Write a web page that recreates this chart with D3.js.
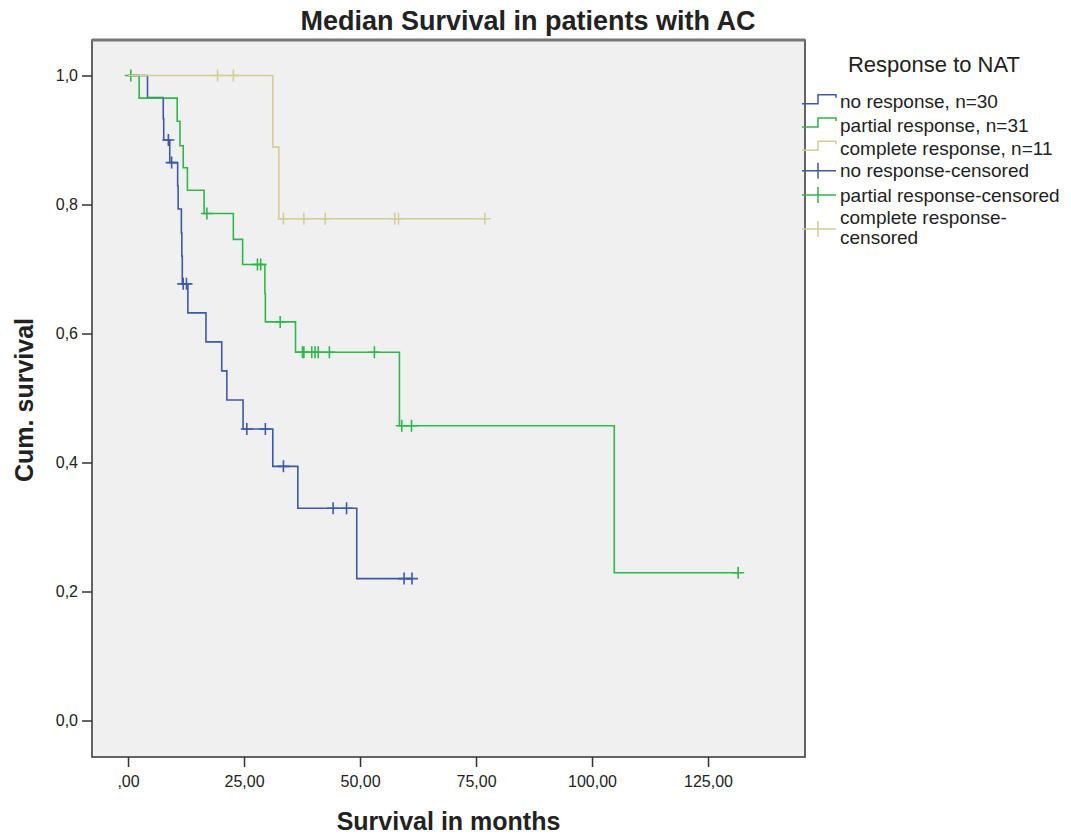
<!DOCTYPE html>
<html>
<head>
<meta charset="utf-8">
<script src="https://cdn.jsdelivr.net/npm/d3@7"></script>
<style>
  body { margin: 0; background: #fff; }
  text { font-family: "Liberation Sans", Arial, sans-serif; fill: #222; }
</style>
</head>
<body>
<div id="chart"></div>
<script>
// x ticks and labels
const xTicks = [0, 25, 50, 75, 100, 125];
const xTickLabels = [",00", "25,00", "50,00", "75,00", "100,00", "125,00"];
const yTicks = [0, 0.2, 0.4, 0.6, 0.8, 1.0];
const yTickLabels = ["0,0", "0,2", "0,4", "0,6", "0,8", "1,0"];

// groups
const groupNames = ["no response", "partial response", "complete response"];
const groupN = [30, 31, 11];
const groupColors = ["#3E58AC", "#2EB848", "#D3CE97"];

// no response: event times (months) and survival after the event
const noRespEventT = [4.2, 7.6, 7.7, 9.0, 10.7, 10.8, 11.5, 11.6, 11.7, 12.9, 16.8, 20.2, 21.3, 24.8, 31.2, 36.6, 49.3];
const noRespEventS = [0.966, 0.933, 0.900, 0.865, 0.829, 0.793, 0.756, 0.720, 0.677, 0.632, 0.587, 0.542, 0.497, 0.452, 0.394, 0.329, 0.220];
const noRespCensT = [8.7, 9.4, 11.9, 12.6, 25.6, 29.6, 33.5, 44.2, 47.1, 59.5, 61.2];
const noRespCensS = [0.900, 0.865, 0.677, 0.677, 0.452, 0.452, 0.394, 0.329, 0.329, 0.220, 0.220];

// partial response
const partRespEventT = [2.4, 10.6, 11.2, 11.9, 12.8, 16.4, 22.7, 24.7, 29.5, 29.6, 36.1, 58.5, 104.8];
const partRespEventS = [0.965, 0.929, 0.891, 0.857, 0.822, 0.786, 0.746, 0.707, 0.662, 0.618, 0.571, 0.457, 0.229];
const partRespCensT = [0.6, 17.0, 27.9, 28.6, 32.8, 37.6, 37.9, 39.6, 40.3, 41.0, 43.4, 53.1, 59.0, 61.1, 131.5];
const partRespCensS = [1.0, 0.786, 0.707, 0.707, 0.618, 0.571, 0.571, 0.571, 0.571, 0.571, 0.571, 0.571, 0.457, 0.457, 0.229];

// complete response
const compRespEventT = [31.2, 32.5];
const compRespEventS = [0.889, 0.778];
const compRespCensT = [19.3, 22.7, 33.5, 37.9, 42.5, 57.5, 58.3, 76.9];
const compRespCensS = [1.0, 1.0, 0.778, 0.778, 0.778, 0.778, 0.778, 0.778];

const groups = [
  { eventT: noRespEventT, eventS: noRespEventS, censT: noRespCensT, censS: noRespCensS },
  { eventT: partRespEventT, eventS: partRespEventS, censT: partRespCensT, censS: partRespCensS },
  { eventT: compRespEventT, eventS: compRespEventS, censT: compRespCensT, censS: compRespCensS }
];

const W = 1071, H = 837;
const box = { left: 92, top: 40, right: 805, bottom: 757 };

const svg = d3.select("#chart").append("svg")
  .attr("width", W)
  .attr("height", H);

// scales
const x = d3.scaleLinear().domain([-7.76, 145.9]).range([box.left, box.right]);
const y = d3.scaleLinear().domain([0, 1]).range([720.5, 75.5]);

// plot frame
svg.append("rect")
  .attr("x", box.left)
  .attr("y", box.top)
  .attr("width", box.right - box.left)
  .attr("height", box.bottom - box.top)
  .attr("fill", "#F0F0F0")
  .attr("stroke", "#333")
  .attr("stroke-width", 1.5);

svg.append("line")
  .attr("x1", box.left).attr("x2", box.right)
  .attr("y1", box.top).attr("y2", box.top)
  .attr("stroke", "#777")
  .attr("stroke-width", 3);

// axes
const xAxis = svg.append("g")
  .attr("transform", `translate(0,${box.bottom})`)
  .call(d3.axisBottom(x)
    .tickValues(xTicks)
    .tickFormat((d, i) => xTickLabels[i])
    .tickSize(10)
    .tickSizeOuter(0)
    .tickPadding(9));
xAxis.select(".domain").remove();

const yAxis = svg.append("g")
  .attr("transform", `translate(${box.left},0)`)
  .call(d3.axisLeft(y)
    .tickValues(yTicks)
    .tickFormat((d, i) => yTickLabels[i])
    .tickSize(10)
    .tickSizeOuter(0)
    .tickPadding(4));
yAxis.select(".domain").remove();

[xAxis, yAxis].forEach(a => {
  a.selectAll("line").attr("stroke", "#333").attr("stroke-width", 1.5);
  a.selectAll("text")
    .style("font-family", "'Liberation Sans', Arial, sans-serif")
    .style("font-size", "16px")
    .attr("fill", "#222");
});

// step curves
const stepLine = d3.line()
  .x(d => x(d[0]))
  .y(d => y(d[1]))
  .curve(d3.curveStepAfter);

const crossSize = 6;

groups.forEach((g, gi) => {
  const pts = [[0, 1]];
  g.eventT.forEach((t, i) => pts.push([t, g.eventS[i]]));
  const lastS = pts[pts.length - 1][1];
  const endT = d3.max([d3.max(g.censT), d3.max(g.eventT)]);
  pts.push([endT, lastS]);

  svg.append("path")
    .datum(pts)
    .attr("d", stepLine)
    .attr("fill", "none")
    .attr("stroke", groupColors[gi])
    .attr("stroke-width", 1.6);

  // censored crosses
  const cens = g.censT.map((t, i) => [t, g.censS[i]]);
  svg.append("g")
    .selectAll("path")
    .data(cens)
    .enter()
    .append("path")
    .attr("d", d => {
      const cx = x(d[0]), cy = y(d[1]);
      return `M${cx - crossSize},${cy}H${cx + crossSize}M${cx},${cy - crossSize}V${cy + crossSize}`;
    })
    .attr("stroke", groupColors[gi])
    .attr("stroke-width", 1.6)
    .attr("fill", "none");
});

// titles
svg.append("text")
  .attr("x", 528)
  .attr("y", 30)
  .attr("text-anchor", "middle")
  .style("font-size", "27px")
  .style("font-weight", "bold")
  .text("Median Survival in patients with AC");

svg.append("text")
  .attr("x", (box.left + box.right) / 2)
  .attr("y", 830)
  .attr("text-anchor", "middle")
  .style("font-size", "25px")
  .style("font-weight", "bold")
  .text("Survival in months");

svg.append("text")
  .attr("transform", "translate(33,400) rotate(-90)")
  .attr("text-anchor", "middle")
  .style("font-size", "25px")
  .style("font-weight", "bold")
  .text("Cum. survival");

// legend
const legend = svg.append("g");
legend.append("text")
  .attr("x", 934)
  .attr("y", 72)
  .attr("text-anchor", "middle")
  .style("font-size", "22px")
  .text("Response to NAT");

const rowY = [101.7, 125, 148.3, 170.7, 195, 217];
const legendLabels = groupNames.map((n, i) => `${n}, n=${groupN[i]}`)
  .concat(groupNames.map(n => `${n}-censored`));

legendLabels.forEach((label, i) => {
  const c = rowY[i];
  const col = groupColors[i % 3];
  if (i < 3) {
    legend.append("path")
      .attr("d", `M802,${c + 2}H818V${c - 7}H836V${c - 4}`)
      .attr("stroke", col).attr("stroke-width", 1.5).attr("fill", "none");
  } else {
    const cc = i === 5 ? 229 : c;
    legend.append("path")
      .attr("d", `M802,${cc}H836M818,${cc - 8}V${cc + 8}`)
      .attr("stroke", col).attr("stroke-width", 1.5).attr("fill", "none");
  }
  const t = legend.append("text")
    .attr("x", 840)
    .attr("y", c + 6.5)
    .style("font-size", "19px");
  if (i === 5) {
    // wrapped like the original
    t.append("tspan").attr("x", 840).text("complete response-");
    t.append("tspan").attr("x", 840).attr("dy", 20).text("censored");
  } else {
    t.text(label);
  }
});
</script>
</body>
</html>
